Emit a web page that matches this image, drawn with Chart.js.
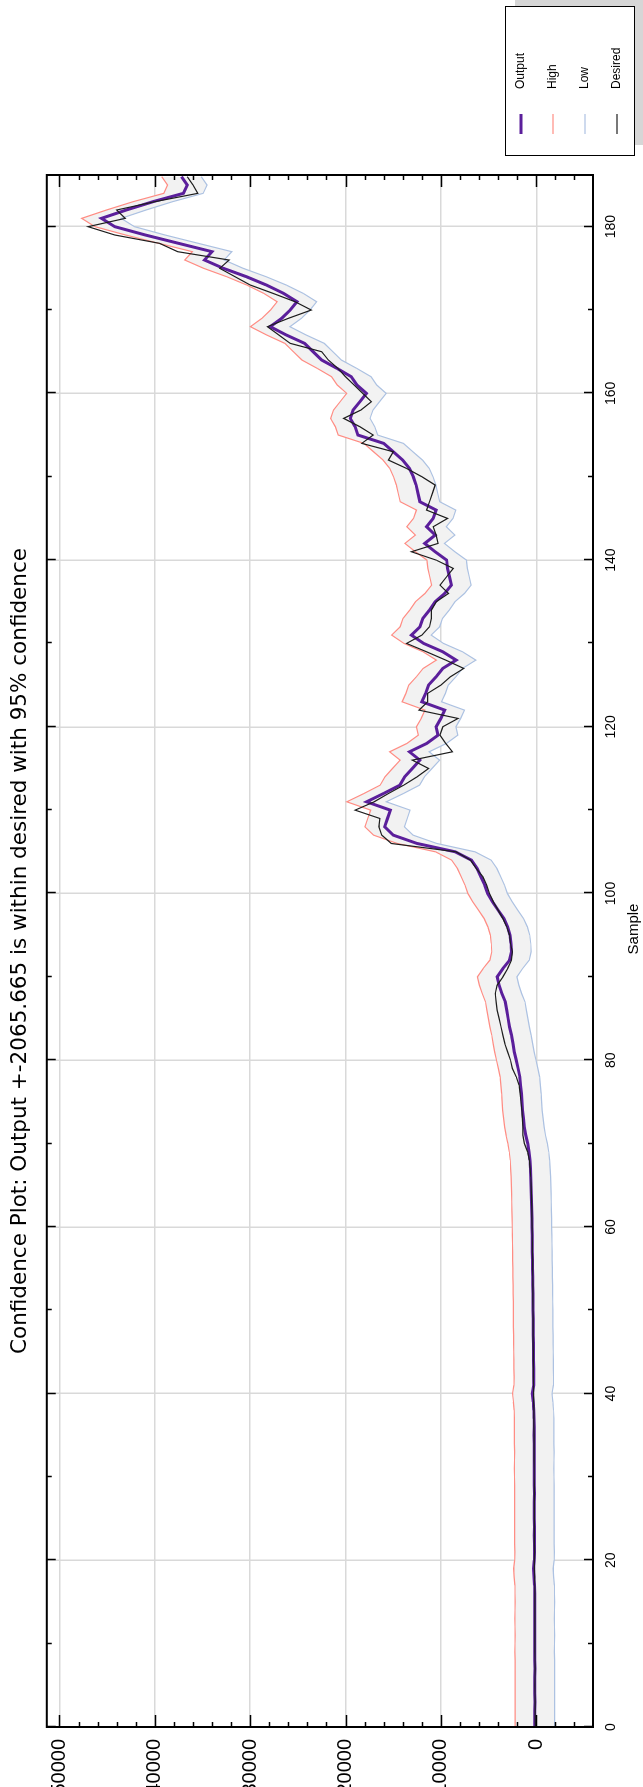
<!DOCTYPE html>
<html>
<head>
<meta charset="utf-8">
<script src="https://cdn.jsdelivr.net/npm/chart.js@4.4.1/dist/chart.umd.min.js"></script>
<style>
  html, body { margin: 0; padding: 0; background: #fff; }
  body { width: 643px; height: 1787px; overflow: hidden; position: relative; }
  /* the chart is drawn landscape and turned a quarter turn to the left */
  #turn { position: absolute; left: 0; top: 0; width: 1787px; height: 643px; overflow: hidden;
          transform-origin: 0 0; transform: translateY(1787px) rotate(-90deg); }
  #plot { position: absolute; left: -30px; top: 0; }
</style>
</head>
<body>
<div id="turn"><canvas id="plot" width="1817" height="643"></canvas></div>
<script>
var chartTitle = 'Confidence Plot: Output +-2065.665 is within desired with 95% confidence';
var axisTitle = 'Sample';
var sampleTicks = [0, 20, 40, 60, 80, 100, 120, 140, 160, 180];
var valueTicks = [0, 10000, 20000, 30000, 40000, 50000];
var sampleMax = 186.2;
var valueMin = -5950;
var valueMax = 51330;
var CUT = 30; // part of the canvas hidden left of the page, value labels run into it

var samples = Array.from({length: 187}, function(_, i) { return i; });

var outputValues = [
  150, 160, 150, 140, 150, 160, 150, 140, 150, 170,
  160, 150, 160, 170, 160, 150, 160, 180, 250, 300,
  200, 180, 190, 200, 190, 200, 210, 200, 190, 200,
  210, 220, 210, 200, 220, 230, 220, 230, 260, 320,
  420, 270, 260, 270, 280, 290, 300, 310, 320, 320,
  330, 340, 350, 360, 380, 390, 400, 410, 420, 430,
  450, 460, 480, 500, 520, 540, 570, 610, 660, 760,
  900, 1100, 1250, 1350, 1450, 1500, 1560, 1640, 1720, 1900,
  2100, 2300, 2450, 2600, 2800, 2950, 3100, 3250, 3600, 3900,
  4100, 3500, 2800, 2600, 2650, 2750, 3000, 3400, 4000, 4600,
  5100, 5400, 5800, 6200, 6800, 8500, 12500, 15000, 15900, 15600,
  15300, 17800, 16000, 14300, 13800, 13000, 12200, 13300, 11500, 10300,
  10500, 10000, 9600, 12000, 11600, 11300, 10500, 9800, 8400, 9800,
  11800, 13100, 12200, 11900, 11200, 10600, 9600, 8900, 9100, 9300,
  9400, 10600, 11700, 10600, 11500, 10800, 10500, 12200, 12400, 12600,
  12900, 13300, 14000, 15000, 16000, 18700, 19000, 19500, 19200, 18500,
  17800, 18800, 19400, 20900, 22500, 23400, 24300, 26200, 27900, 26700,
  25800, 25100, 26500, 28300, 30400, 32800, 34800, 34000, 37500, 41000,
  44200, 45600, 43000, 40200, 37000, 36600, 37200
];

var highValues = [
  2220, 2230, 2220, 2210, 2220, 2230, 2220, 2210, 2220, 2240,
  2230, 2220, 2230, 2240, 2230, 2220, 2230, 2250, 2320, 2370,
  2270, 2250, 2260, 2270, 2260, 2270, 2280, 2270, 2260, 2270,
  2280, 2290, 2280, 2270, 2290, 2300, 2290, 2300, 2330, 2390,
  2490, 2340, 2330, 2340, 2350, 2360, 2370, 2380, 2390, 2390,
  2400, 2410, 2420, 2430, 2450, 2460, 2470, 2480, 2490, 2500,
  2520, 2530, 2550, 2570, 2590, 2610, 2640, 2680, 2730, 2830,
  2970, 3170, 3320, 3420, 3520, 3570, 3630, 3710, 3790, 3970,
  4170, 4370, 4520, 4670, 4870, 5020, 5170, 5320, 5670, 5970,
  6170, 5570, 4870, 4670, 4720, 4820, 5070, 5470, 6070, 6670,
  7170, 7470, 7870, 8270, 8870, 10570, 14570, 17070, 17970, 17670,
  17370, 19870, 18070, 16370, 15870, 15070, 14270, 15370, 13570, 12370,
  12570, 12070, 11670, 14070, 13670, 13370, 12570, 11870, 10470, 11870,
  13870, 15170, 14270, 13970, 13270, 12670, 11670, 10970, 11170, 11370,
  11470, 12670, 13770, 12670, 13570, 12870, 12570, 14270, 14470, 14670,
  14970, 15370, 16070, 17070, 18070, 20770, 21070, 21570, 21270, 20570,
  19870, 20870, 21470, 22970, 24570, 25470, 26370, 28270, 29970, 28770,
  27870, 27170, 28570, 30370, 32470, 34870, 36870, 36070, 39570, 43070,
  46270, 47670, 45070, 42270, 39070, 38670, 39270
];

var lowValues = [
  -1920, -1910, -1920, -1930, -1920, -1910, -1920, -1930, -1920, -1900,
  -1910, -1920, -1910, -1900, -1910, -1920, -1910, -1890, -1820, -1770,
  -1870, -1890, -1880, -1870, -1880, -1870, -1860, -1870, -1880, -1870,
  -1860, -1850, -1860, -1870, -1850, -1840, -1850, -1840, -1810, -1750,
  -1650, -1800, -1810, -1800, -1790, -1780, -1770, -1760, -1750, -1750,
  -1740, -1730, -1720, -1710, -1690, -1680, -1670, -1660, -1650, -1640,
  -1620, -1610, -1590, -1570, -1550, -1530, -1500, -1460, -1410, -1310,
  -1170, -970, -820, -720, -620, -570, -510, -430, -350, -170,
  30, 230, 380, 530, 730, 880, 1030, 1180, 1530, 1830,
  2030, 1430, 730, 530, 580, 680, 930, 1330, 1930, 2530,
  3030, 3330, 3730, 4130, 4730, 6430, 10430, 12930, 13830, 13530,
  13230, 15730, 13930, 12230, 11730, 10930, 10130, 11230, 9430, 8230,
  8430, 7930, 7530, 9930, 9530, 9230, 8430, 7730, 6330, 7730,
  9730, 11030, 10130, 9830, 9130, 8530, 7530, 6830, 7030, 7230,
  7330, 8530, 9630, 8530, 9430, 8730, 8430, 10130, 10330, 10530,
  10830, 11230, 11930, 12930, 13930, 16630, 16930, 17430, 17130, 16430,
  15730, 16730, 17330, 18830, 20430, 21330, 22230, 24130, 25830, 24630,
  23730, 23030, 24430, 26230, 28330, 30730, 32730, 31930, 35430, 38930,
  42130, 43530, 40930, 38130, 34930, 34530, 35130
];

var desiredValues = [
  100, 120, 130, 120, 130, 140, 130, 120, 130, 140,
  150, 140, 150, 160, 150, 140, 150, 160, 180, 200,
  190, 180, 190, 200, 200, 210, 200, 200, 210, 200,
  210, 210, 220, 220, 230, 230, 240, 250, 260, 270,
  280, 290, 300, 300, 310, 310, 320, 320, 330, 330,
  340, 350, 350, 360, 370, 380, 390, 400, 410, 420,
  430, 450, 470, 490, 510, 540, 580, 640, 720, 900,
  1250, 1400, 1400, 1450, 1500, 1600, 1700, 1800, 2100, 2500,
  2700, 3000, 3300, 3500, 3700, 3900, 4100, 4200, 4300, 4100,
  3500, 3000, 2600, 2500, 2700, 2800, 3100, 3500, 4000, 4500,
  4900, 5200, 5600, 6300, 6900, 8400, 15200, 16200, 16500, 16400,
  19000, 17000, 15500, 13900, 12500, 11300, 13000, 8800, 9500, 10100,
  9800, 8200, 12300, 11400, 11400, 10000, 9000, 7600, 9500, 11500,
  13600, 12000, 11200, 11000, 11000, 10500, 9200, 10100, 9400, 8700,
  10500, 13100, 10300, 10500, 10800, 9300, 11500, 11200, 10900, 10600,
  12000, 13600, 15500, 15000, 18300, 17100, 18500, 20200, 18400, 17300,
  18200, 19100, 20000, 20800, 21800, 22500, 25800, 27000, 28200, 26000,
  23600, 25300, 27600, 30000, 31600, 33200, 32200, 37600, 39500, 44200,
  47000, 43100, 44000, 40000, 35500, 36000, 36600
];

function points(values) {
  return samples.map(function(s, i) { return {x: s, y: values[i]}; });
}

var labelFont = "'Liberation Sans', Arial, sans-serif";

// frame round the plot with inward ticks on all four sides
var framePlugin = {
  id: 'frame',
  afterDatasetsDraw: function(chart) {
    var ctx = chart.ctx, a = chart.chartArea;
    var xs = chart.scales.x, ys = chart.scales.y;
    ctx.save();
    ctx.strokeStyle = '#000';
    ctx.lineWidth = 1.5;
    ctx.beginPath();
    for (var s = 0; s <= 180; s += 10) {
      var px = Math.round(xs.getPixelForValue(s)) + 0.5;
      var len = s % 20 === 0 ? 9 : 5;
      ctx.moveTo(px, a.bottom); ctx.lineTo(px, a.bottom - len);
      ctx.moveTo(px, a.top); ctx.lineTo(px, a.top + len);
    }
    for (var v = -4000; v <= 50000; v += 2000) {
      var py = Math.round(ys.getPixelForValue(v)) + 0.5;
      var len2 = v % 10000 === 0 ? 12 : 5;
      ctx.moveTo(a.left, py); ctx.lineTo(a.left + len2, py);
      ctx.moveTo(a.right, py); ctx.lineTo(a.right - len2, py);
    }
    ctx.stroke();
    ctx.lineWidth = 2;
    ctx.strokeRect(a.left, a.top, a.right - a.left, a.bottom - a.top);

    // axis title sits a little right of the plot centre
    ctx.fillStyle = '#000';
    ctx.font = '15px ' + labelFont;
    ctx.textAlign = 'center';
    ctx.textBaseline = 'middle';
    ctx.fillText(axisTitle, (a.left + a.right) / 2 + 22, 634);
    ctx.restore();
  }
};

// boxed legend with a drop shadow, below the plot on the right
var legendPlugin = {
  id: 'boxLegend',
  afterDraw: function(chart) {
    var ctx = chart.ctx;
    var x = 1661, y = 505, w = 149, h = 129;
    ctx.save();
    ctx.fillStyle = '#d6d6d6';
    ctx.fillRect(x + 11, y + 10, w, h);
    ctx.fillStyle = '#fff';
    ctx.fillRect(x, y, w, h);
    ctx.strokeStyle = '#000';
    ctx.lineWidth = 1;
    ctx.strokeRect(x + 0.5, y + 0.5, w, h);
    ctx.font = '12px ' + labelFont;
    ctx.textBaseline = 'middle';
    chart.data.datasets.forEach(function(ds, i) {
      var cy = y + 16 + i * 32;
      ctx.strokeStyle = ds.borderColor;
      ctx.lineWidth = ds.borderWidth;
      ctx.beginPath();
      ctx.moveTo(x + 22, cy);
      ctx.lineTo(x + 42, cy);
      ctx.stroke();
      ctx.fillStyle = '#000';
      ctx.fillText(ds.label, x + 67, cy);
    });
    ctx.restore();
  }
};

var plot = new Chart(document.getElementById('plot').getContext('2d'), {
  type: 'line',
  data: {
    datasets: [
      { label: 'Output', data: points(outputValues), borderColor: '#5b1f9b', borderWidth: 3, order: 1 },
      { label: 'High', data: points(highValues), borderColor: '#ff8d84', borderWidth: 1.2,
        fill: 2, backgroundColor: '#f2f2f2', order: 2 },
      { label: 'Low', data: points(lowValues), borderColor: '#adc2e2', borderWidth: 1.2, order: 3 },
      { label: 'Desired', data: points(desiredValues), borderColor: '#1e1e1e', borderWidth: 1.2, order: 0 }
    ]
  },
  options: {
    responsive: false,
    animation: false,
    events: [],
    layout: { padding: { left: 0, right: 175, top: 0, bottom: 0 } },
    elements: { point: { radius: 0 }, line: { tension: 0 } },
    plugins: {
      legend: { display: false },
      tooltip: { enabled: false },
      filler: { drawTime: 'beforeDatasetsDraw' },
      title: {
        display: true, text: chartTitle, fullSize: false, color: '#000',
        font: { family: "'DejaVu Sans', sans-serif", size: 21.5, weight: 'normal', lineHeight: 1.2 },
        padding: { top: 8, bottom: 13 }
      }
    },
    scales: {
      x: {
        type: 'linear', min: 0, max: sampleMax,
        afterBuildTicks: function(s) { s.ticks = sampleTicks.map(function(v) { return {value: v}; }); },
        afterFit: function(s) { s.height = 50; },
        grid: { color: '#d9d9d9', lineWidth: 1.5, drawTicks: false },
        border: { display: false },
        ticks: { padding: 10, color: '#000', maxRotation: 0, autoSkip: false,
                 font: { family: labelFont, size: 14 },
                 callback: function(v) { return String(v); } }
      },
      y: {
        type: 'linear', min: valueMin, max: valueMax,
        afterBuildTicks: function(s) { s.ticks = valueTicks.map(function(v) { return {value: v}; }); },
        afterFit: function(s) { s.width = 60 + CUT; },
        grid: { color: '#d9d9d9', lineWidth: 1.5, drawTicks: false },
        border: { display: false },
        ticks: { padding: 12, color: '#000', autoSkip: false,
                 font: { family: labelFont, size: 20 },
                 callback: function(v) { return String(v); } }
      }
    }
  },
  plugins: [framePlugin, legendPlugin]
});
</script>
</body>
</html>
